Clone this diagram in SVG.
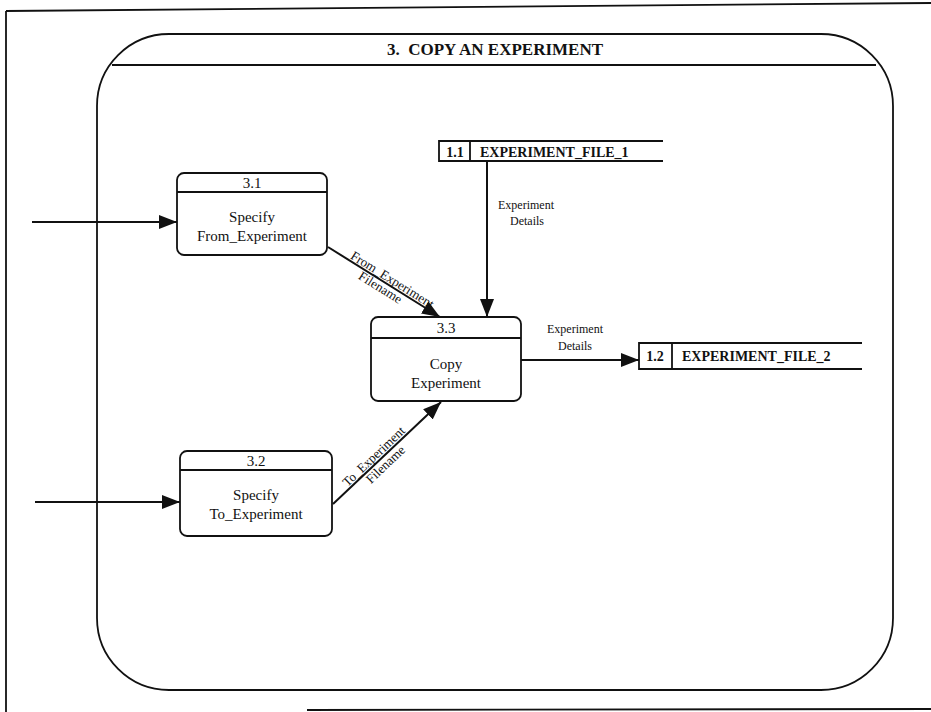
<svg xmlns="http://www.w3.org/2000/svg" width="931" height="712" viewBox="0 0 931 712" font-family="'Liberation Serif','Times New Roman',serif">
<defs>
<style>
.ln{fill:none;stroke:#111;stroke-width:1.8}
.box{fill:#fff;stroke:#111;stroke-width:1.8}
.c{fill:none;stroke:#111;stroke-width:2}
.t{font-family:'Liberation Serif','Times New Roman',serif;fill:#111}
.n{font-size:15px;text-anchor:middle}
.lb{font-size:12px;text-anchor:middle}
.rl{font-size:13px;text-anchor:middle}
.b{font-weight:bold}
</style>
<marker id="ah" markerUnits="userSpaceOnUse" markerWidth="20" markerHeight="14" refX="18" refY="7" orient="auto">
<path d="M0,0 L18,7 L0,14 Z" fill="#111"/>
</marker>
</defs>
<rect width="931" height="712" fill="#fff"/>
<g id="page">
<path d="M6,11 L931,3" class="ln" stroke-width="1.5"/>
<path d="M6,11 L6,712" class="ln" stroke-width="1.5"/>
<path d="M307,710 L931,709" class="ln" stroke-width="1.5" stroke="#555"/>
</g>
<g id="frame">
<rect x="97" y="34" width="796" height="656" rx="72" ry="72" class="ln"/>
<path d="M112,65 L876,65" class="ln"/>
<text x="495" y="55" class="t b" font-size="17" text-anchor="middle" xml:space="preserve">3.  COPY AN EXPERIMENT</text>
</g>
<g id="p31">
<rect x="177" y="173" width="150" height="82" rx="7" class="box"/>
<path d="M177,192 L327,192" class="ln" stroke-width="2.2"/>
<text x="252" y="188" class="t n">3.1</text>
<text x="252" y="222" class="t n">Specify</text>
<text x="252" y="241" class="t n">From_Experiment</text>
</g>
<g id="p32">
<rect x="180" y="451" width="152" height="85" rx="7" class="box"/>
<path d="M180,470 L332,470" class="ln" stroke-width="2.2"/>
<text x="256" y="466" class="t n">3.2</text>
<text x="256" y="500" class="t n">Specify</text>
<text x="256" y="519" class="t n">To_Experiment</text>
</g>
<g id="p33">
<rect x="371" y="317" width="150" height="84" rx="7" class="box"/>
<path d="M371,338 L521,338" class="ln" stroke-width="2.2"/>
<text x="446" y="333" class="t n">3.3</text>
<text x="446" y="369" class="t n">Copy</text>
<text x="446" y="388" class="t n">Experiment</text>
</g>
<g id="s11">
<path d="M663,141 L439,141 L439,161 L663,161" class="ln"/>
<path d="M470,141 L470,161" class="ln"/>
<text x="455" y="157" class="t b" font-size="14" text-anchor="middle">1.1</text>
<text x="480" y="157" class="t b" font-size="14">EXPERIMENT_FILE_1</text>
</g>
<g id="s12">
<path d="M862,343 L639,343 L639,369 L862,369" class="ln"/>
<path d="M672,343 L672,369" class="ln"/>
<text x="655" y="361" class="t b" font-size="14" text-anchor="middle">1.2</text>
<text x="682" y="361" class="t b" font-size="14">EXPERIMENT_FILE_2</text>
</g>
<g id="connectors">
<path d="M32,222 L177,222" class="c" marker-end="url(#ah)"/>
<path d="M35,502 L180,502" class="c" marker-end="url(#ah)"/>
<path d="M328,247 L440,317" class="c" marker-end="url(#ah)"/>
<path d="M333,504 L441,402" class="c" marker-end="url(#ah)"/>
<path d="M487,161 L487,317" class="c" marker-end="url(#ah)"/>
<path d="M521,360 L639,360" class="c" marker-end="url(#ah)"/>
<g transform="translate(389,285) rotate(32)">
<text x="0" y="-2" class="t rl">From_Experiment</text>
<text x="-6" y="11" class="t rl">Filename</text>
</g>
<g transform="translate(378,461) rotate(-43.6)">
<text x="0" y="-2" class="t rl">To_Experiment</text>
<text x="3" y="12" class="t rl">Filename</text>
</g>
<text x="526" y="209" class="t lb">Experiment</text>
<text x="527" y="225" class="t lb">Details</text>
<text x="575" y="333" class="t lb">Experiment</text>
<text x="575" y="350" class="t lb">Details</text>
</g>
</svg>
